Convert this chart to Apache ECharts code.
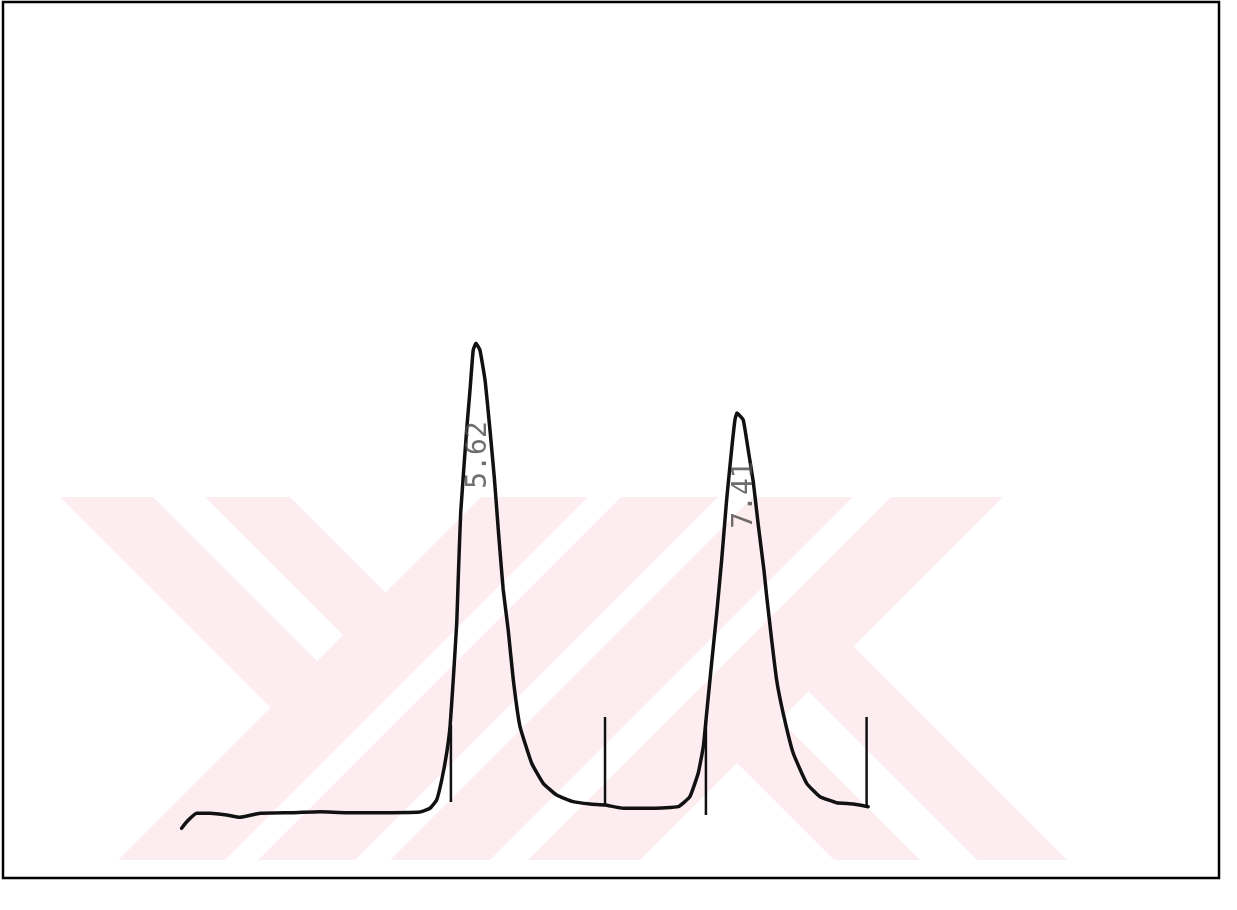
<!DOCTYPE html>
<html>
<head>
<meta charset="utf-8">
<script src="https://cdn.jsdelivr.net/npm/echarts@6/dist/echarts.min.js"></script>
<style>
html,body{margin:0;padding:0;background:#fff;}
#chart{width:1237px;height:910px;}
</style>
</head>
<body>
<div id="chart"></div>
<script>
// Retention time (min) and detector signal (mV)
const traceTime = [3.601,3.636,3.704,3.796,3.910,4.001,4.139,4.367,4.550,4.733,4.916,5.236,5.304,5.350,5.385,5.419,5.442,5.464,5.488,5.498,5.515,5.556,5.579,5.601,5.620,5.647,5.682,5.716,5.747,5.773,5.784,5.807,5.841,5.876,5.922,6.002,6.081,6.173,6.287,6.402,6.505,6.630,6.836,7.007,7.087,7.144,7.179,7.202,7.236,7.271,7.305,7.339,7.373,7.396,7.410,7.453,7.487,7.522,7.556,7.595,7.614,7.648,7.682,7.727,7.796,7.888,7.979,8.094,8.207,8.310];
const traceSignal = [-3.71,-2.30,-0.49,-0.49,-0.86,-1.35,-0.49,-0.36,-0.15,-0.36,-0.36,-0.21,0.58,2.36,6.65,12.45,18.09,28.11,40.34,49.57,63.95,81.76,90.34,98.93,100.36,98.93,92.49,81.76,71.03,60.30,56.01,47.42,38.84,28.11,18.09,10.24,5.94,3.43,2.00,1.50,1.29,0.58,0.58,0.92,3.07,8.09,13.80,20.97,31.70,42.42,53.86,66.74,77.47,83.91,85.41,83.91,77.47,70.60,61.37,51.72,45.99,36.70,28.11,20.97,12.38,5.94,3.07,1.78,1.50,0.92];

// Integration markers (peak start / end)
const markerTime = [5.448, 6.505, 7.197, 8.299];
const markerTop = [18.45, 20.17, 19.53, 20.17];
const markerBottom = [1.93, 1.29, -0.86, 0.64];

// Peak retention-time labels
const peakTime = [5.62, 7.41];
const peakLabelY = [76.4, 67.8];
const peakLabel = ['5.62', '7.41'];

const labelShift = [3, 8];
const traceData = traceTime.map((t, i) => [t, traceSignal[i]]);
const markerData = markerTime.map((t, i) => [t, markerTop[i], markerBottom[i]]);
const labelData = peakTime.map((t, i) => ({value: [t, peakLabelY[i], peakLabel[i]], label: {offset: [0, labelShift[i]]}}));

// watermark (decoration)
const pink = '#fdedf1';
const wm = [
  {pts:[[60,497],[290,497],[385.5,592.5],[270.5,707.5]], c:pink},
  {pts:[[481,497],[1003,497],[640,860],[118,860]], c:pink},
  {pts:[[737,763],[853.5,646.5],[1067,860],[834,860]], c:pink},
  {pts:[[153,497],[205,497],[343,635],[317,661]], c:'#fff'},
  {pts:[[588,497],[621,497],[258,860],[225,860]], c:'#fff'},
  {pts:[[718,497],[753,497],[390,860],[355,860]], c:'#fff'},
  {pts:[[853,497],[891,497],[528,860],[490,860]], c:'#fff'},
  {pts:[[780,720],[808.5,691.5],[977,860],[920,860]], c:'#fff'}
];

const chart = echarts.init(document.getElementById('chart'));
chart.setOption({
  animation: false,
  backgroundColor: '#fff',
  graphic: wm.map(w => ({type:'polygon', shape:{points:w.pts}, style:{fill:w.c}, z:-10, silent:true})),
  grid: {left: 3, right: 18, top: 2, bottom: 32, show: true, borderColor: '#000', borderWidth: 2.5, backgroundColor: 'transparent'},
  xAxis: {type: 'value', min: 2.376, max: 10.716, show: false},
  yAxis: {type: 'value', min: -14.38, max: 173.6, show: false},
  series: [
    {
      type: 'line', data: traceData, showSymbol: false, smooth: 0.12,
      lineStyle: {color: '#111', width: 3.5, join: 'round', cap: 'round'}, z: 3
    },
    {
      type: 'custom', data: markerData, z: 4,
      renderItem: function (params, api) {
        const p1 = api.coord([api.value(0), api.value(1)]);
        const p2 = api.coord([api.value(0), api.value(2)]);
        return {type: 'line', shape: {x1: p1[0], y1: p1[1], x2: p2[0], y2: p2[1]}, style: {stroke: '#111', lineWidth: 2.5}};
      }
    },
    {
      type: 'scatter', data: labelData, symbolSize: 0, z: 5,
      label: {
        show: true, position: 'inside', rotate: 90,
        formatter: p => p.value[2],
        fontFamily: 'DejaVu Sans Mono', fontSize: 28, color: '#4a4a4a'
      }
    }
  ]
});
</script>
</body>
</html>
